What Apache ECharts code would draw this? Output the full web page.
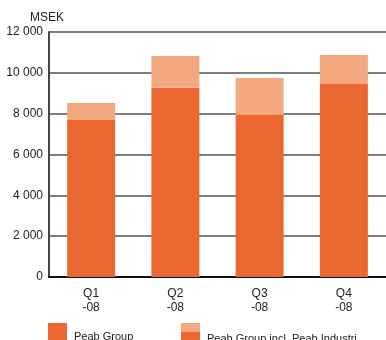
<!DOCTYPE html>
<html>
<head>
<meta charset="utf-8">
<script src="https://cdn.jsdelivr.net/npm/echarts@6/dist/echarts.min.js"></script>
<style>html,body{margin:0;padding:0;background:#fff;}#c{width:386px;height:340px;}</style>
</head>
<body>
<div id="c"></div>
<script>
var categories = ['Q1\n-08', 'Q2\n-08', 'Q3\n-08', 'Q4\n-08'];
var peabGroup = [7690, 9270, 7935, 9450];
var peabGroupInclIndustri = [8520, 10820, 9750, 10870];
var yTicks = [0, 2000, 4000, 6000, 8000, 10000, 12000];
var legendNames = ['Peab Group', 'Peab Group incl. Peab Industri'];

var extra = peabGroupInclIndustri.map(function (v, i) { return v - peabGroup[i]; });
var dark = '#EC6833', light = '#F3A880';
var font = 'Liberation Sans, Arial, sans-serif';

var chart = echarts.init(document.getElementById('c'));
chart.setOption({
  animation: false,
  grid: { left: 49, top: 32, width: 340, bottom: 63 },
  xAxis: {
    type: 'category', data: categories,
    axisLine: { lineStyle: { color: '#111', width: 2 } },
    axisTick: { show: false },
    axisLabel: { color: '#222', fontSize: 12, fontFamily: font, lineHeight: 14, margin: 10 }
  },
  yAxis: {
    type: 'value', min: 0, max: 12000, interval: 2000,
    name: 'MSEK', nameLocation: 'end', nameGap: 8,
    nameTextStyle: { color: '#222', fontSize: 12, fontFamily: font, align: 'center', padding: [0, 0, 0, -4] },
    axisLine: { show: true, lineStyle: { color: '#444', width: 2 } },
    axisTick: { show: false },
    splitLine: { lineStyle: { color: '#7d7d7d', width: 2 } },
    axisLabel: {
      color: '#222', fontSize: 12, fontFamily: font, margin: 6,
      formatter: function (v) { return yTicks.indexOf(v) >= 0 ? String(v).replace(/\B(?=(\d{3})+(?!\d))/g, ' ') : ''; }
    }
  },
  series: [
    { name: legendNames[0], type: 'bar', stack: 't', data: peabGroup, barWidth: 48, itemStyle: { color: dark } },
    { name: legendNames[1], type: 'bar', stack: 't', data: extra, barWidth: 48, itemStyle: { color: light } }
  ],
  graphic: [
    { type: 'rect', shape: { x: 48, y: 323, width: 19, height: 20 }, style: { fill: dark } },
    { type: 'text', x: 74, y: 331, style: { text: legendNames[0], fill: '#222', font: '11px ' + font } },
    { type: 'rect', shape: { x: 181, y: 323, width: 19, height: 9 }, style: { fill: light } },
    { type: 'rect', shape: { x: 181, y: 332, width: 19, height: 11 }, style: { fill: dark } },
    { type: 'text', x: 207, y: 333, style: { text: legendNames[1], fill: '#222', font: '11px ' + font } }
  ]
});
</script>
</body>
</html>
